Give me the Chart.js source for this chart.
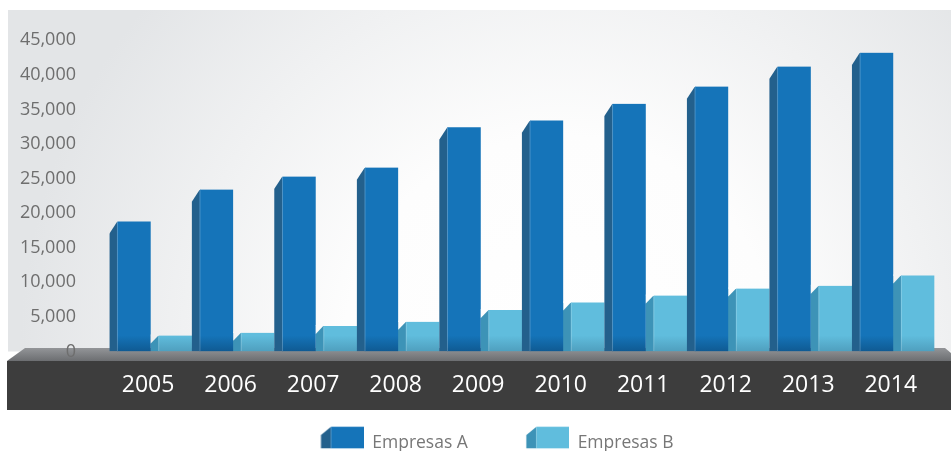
<!DOCTYPE html>
<html lang="es">
<head>
  <meta charset="UTF-8" />
  <title>Empresas A / Empresas B</title>
  <script src="https://cdn.jsdelivr.net/npm/chart.js"></script>
  <style>
    html, body { margin: 0; padding: 0; background: #fff; }
    #wrap { width: 951px; height: 451px; }
  </style>
</head>
<body>

<div id="wrap"><canvas id="empresasChart"></canvas></div>

<script>
  // Datos
  const years = ['2005', '2006', '2007', '2008', '2009', '2010', '2011', '2012', '2013', '2014'];
  const empresasA = [18800, 23400, 25300, 26600, 32400, 33400, 35800, 38300, 41200, 43200];
  const empresasB = [2300, 2700, 3700, 4300, 6000, 7100, 8100, 9100, 9500, 11000];
  const yMin = 0, yMax = 45000, yStep = 5000;

  // Colores (frente, lateral, sombra inferior)
  const colA = { front: '#1574b9', side: '#23608c', shade: '#0f5a92', drop: 12 };
  const colB = { front: '#60bddd', side: '#3d93b7', shade: '#4f9fbe', drop: 8 };
  const SIDE = 8;

  // relleno del frente con sombra abajo
  function frontFill(c) {
    return ctx => {
      const area = ctx.chart.chartArea;
      if (!area) return c.front;
      const g = ctx.chart.ctx.createLinearGradient(0, area.bottom - 16, 0, area.bottom);
      g.addColorStop(0, c.front);
      g.addColorStop(1, c.shade);
      return g;
    };
  }

  // icono 3D para la leyenda
  function legendIcon(c) {
    const W = 86, H = 34, side = 10, front = 32.6, h = 21.6, top = 0.7;
    const cv = document.createElement('canvas');
    cv.width = W; cv.height = H;
    const x = cv.getContext('2d');
    const x0 = W - side - front;
    x.fillStyle = c.side;
    x.beginPath();
    x.moveTo(x0, top + 8.3);
    x.lineTo(x0 + side, top);
    x.lineTo(x0 + side, top + h);
    x.lineTo(x0, top + h);
    x.closePath();
    x.fill();
    x.fillStyle = c.front;
    x.fillRect(x0 + side, top, front, h);
    return cv;
  }
  const icons = [legendIcon(colA), legendIcon(colB)];

  // fondo, piso, franja oscura y caras laterales
  const scene = {
    id: 'scene',
    beforeDraw(chart) {
      const { ctx, chartArea: a, width } = chart;
      ctx.save();
      ctx.fillStyle = '#fff';
      ctx.fillRect(0, 0, width, chart.height);

      const g = ctx.createRadialGradient(560, a.bottom, 0, 560, a.bottom, 540);
      g.addColorStop(0, '#ffffff');
      g.addColorStop(0.4, '#fdfdfd');
      g.addColorStop(1, '#e3e5e7');
      chart.$panel = g;
      ctx.fillStyle = g;
      ctx.fillRect(8, 10, width - 8, a.bottom - 10);

      // piso
      const fTop = a.bottom - 3.5, fBot = a.bottom + 9.5;
      const fg = ctx.createLinearGradient(0, fTop, 0, fBot);
      fg.addColorStop(0, '#939598');
      fg.addColorStop(1, '#6c6e71');
      ctx.fillStyle = fg;
      ctx.beginPath();
      ctx.moveTo(7, fBot);
      ctx.lineTo(25, fTop);
      ctx.lineTo(width - 6, fTop);
      ctx.lineTo(width, fTop + 5);
      ctx.lineTo(width, fBot);
      ctx.closePath();
      ctx.fill();

      // franja oscura
      ctx.fillStyle = '#3d3d3d';
      ctx.fillRect(7, fBot, width - 7, 49);
      ctx.restore();
    },
    afterDatasetsDraw(chart) {
      const { ctx } = chart;
      ctx.save();
      [colA, colB].forEach((c, i) => {
        chart.getDatasetMeta(i).data.forEach(bar => {
          const { x, y, width, base } = bar.getProps(['x', 'y', 'width', 'base'], true);
          const left = x - width / 2;
          const l0 = i === 0 ? left - 1 : left;
          // recorte superior de la cara lateral
          ctx.fillStyle = chart.$panel;
          ctx.beginPath();
          ctx.moveTo(l0, y - 1);
          ctx.lineTo(left + SIDE, y - 1);
          ctx.lineTo(left + SIDE, y - 0.3);
          ctx.lineTo(left, y + c.drop);
          ctx.lineTo(l0, y + c.drop);
          ctx.closePath();
          ctx.fill();
          // arista clara
          ctx.fillStyle = 'rgba(255,255,255,0.22)';
          ctx.fillRect(left + SIDE - 0.5, y + 0.5, 1, base - y - 1);
        });
      });
      ctx.restore();
    }
  };

  const chart = new Chart(document.getElementById('empresasChart'), {
    type: 'bar',
    data: {
      labels: years,
      datasets: [
        {
          label: 'Empresas A',
          data: empresasA,
          backgroundColor: frontFill(colA),
          borderColor: colA.side,
          borderWidth: { left: SIDE, top: 0, right: 0, bottom: 0 },
          borderSkipped: false,
          categoryPercentage: 1,
          barPercentage: 1
        },
        {
          label: 'Empresas B',
          data: empresasB,
          backgroundColor: frontFill(colB),
          borderColor: colB.side,
          borderWidth: { left: SIDE, top: 0, right: 0, bottom: 0 },
          borderSkipped: false,
          categoryPercentage: 1,
          barPercentage: 1
        }
      ]
    },
    options: {
      responsive: true,
      maintainAspectRatio: false,
      animation: false,
      locale: 'en-US',
      layout: { padding: { left: 16.4, right: 16.4, top: 40.2, bottom: -10.8 } },
      plugins: {
        tooltip: { enabled: false },
        legend: {
          position: 'bottom',
          labels: {
            usePointStyle: true,
            pointStyleWidth: 86,
            padding: 15,
            color: '#777777',
            font: { family: 'Open Sans', size: 17.5 },
            generateLabels: ch => {
              const items = Chart.defaults.plugins.legend.labels.generateLabels(ch);
              items.forEach((it, i) => { it.pointStyle = icons[i]; });
              return items;
            }
          }
        }
      },
      scales: {
        x: {
          grid: { display: false, drawTicks: false },
          border: { display: false },
          ticks: {
            color: '#ffffff',
            padding: 20.1,
            labelOffset: -2.6,
            maxRotation: 0,
            font: { family: 'Open Sans', size: 23 }
          }
        },
        y: {
          min: yMin,
          max: yMax,
          grid: { display: false, drawTicks: false },
          border: { display: false },
          afterFit: s => {
            s.width = 93.05;
            s.paddingTop = 0;
            s.paddingBottom = 0;
          },
          ticks: {
            stepSize: yStep,
            color: '#6e6e6e',
            padding: 33.45,
            font: { family: 'Open Sans', size: 18 }
          }
        }
      }
    },
    plugins: [scene]
  });
</script>

</body>
</html>
